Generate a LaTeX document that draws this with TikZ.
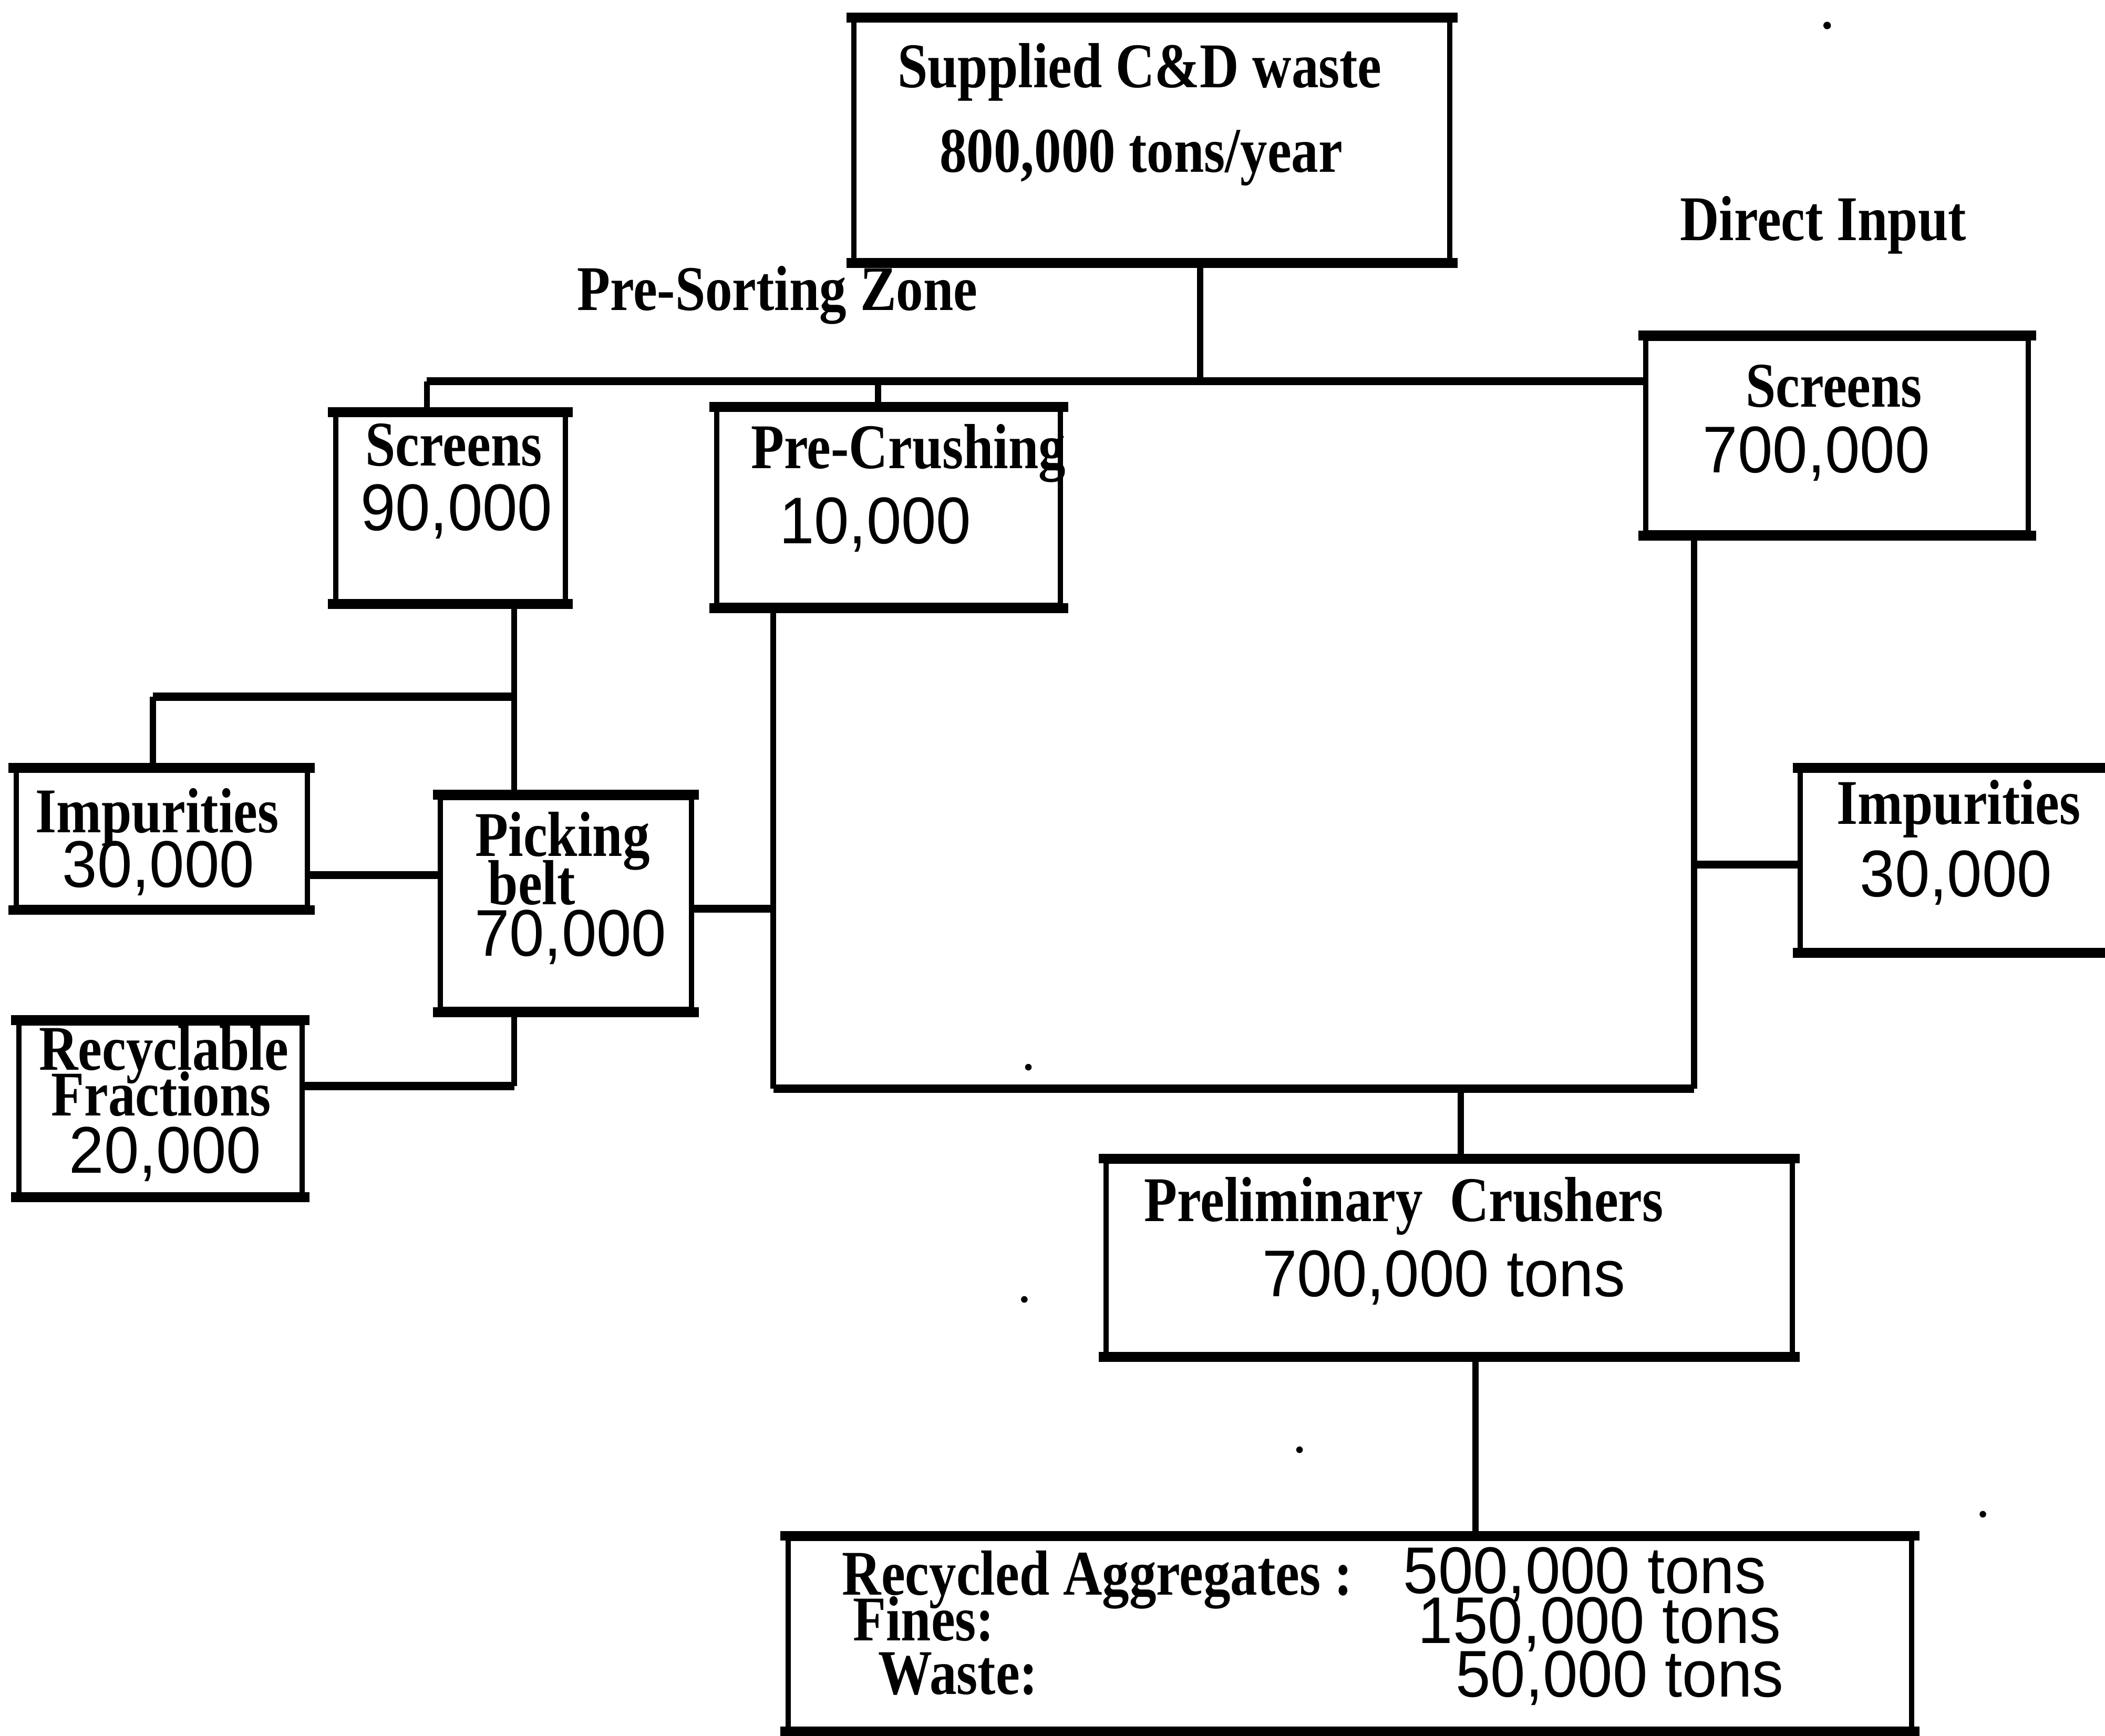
\documentclass[tikz,border=0pt]{standalone}
\usepackage{fontspec}
\usetikzlibrary{fit}
\newfontfamily\serifl[FakeStretch=0.85]{Liberation Serif}
\newfontfamily\numf[FakeStretch=0.95]{Liberation Sans}
\begin{document}
\begin{tikzpicture}[x=0.02cm,y=-0.02cm,
  box/.style={draw, line width=2.2pt, inner sep=0pt, fit={#1}},
  lbl/.style={font=\serifl\bfseries\fontsize{27}{30}\selectfont, inner sep=0pt, anchor=base},
  num/.style={font=\numf\fontsize{28}{30}\selectfont, inner sep=0pt, anchor=base},
  vline/.style={line width=2.6pt},
  hline/.style={line width=3.4pt},
  edge/.style={line width=4.2pt, line cap=rect}]
\useasboundingbox (0,0) rectangle (1568,1293);

% boxes
\node[box={(636,15) (1080,194)}] (sup) {};
\node[box={(250,309) (421,448)}] (scrA) {};
\node[box={(534,305) (790,451)}] (pre) {};
\node[box={(1226,252) (1511,397)}] (scrB) {};
\node[box={(12,574) (229,676)}] (impA) {};
\node[box={(328,594) (515,752)}] (pick) {};
\node[box={(14,762) (225,890)}] (rec) {};
\node[box={(1341,574) (1580,708)}] (impB) {};
\node[box={(824,865) (1335,1009)}] (pc) {};
\node[box={(587,1146) (1424,1288)}] (out) {};
\foreach \n in {sup,scrA,pre,scrB,impA,pick,rec,impB,pc,out}{
  \draw[edge] (\n.north west) -- (\n.north east);
  \draw[edge] (\n.south west) -- (\n.south east);
}

% free labels
\node[lbl] (presort) at (579,231) {Pre-Sorting Zone};
\node[lbl] (direct) at (1358,179) {Direct Input};

% box texts
\node[lbl] (supT1) at (849,65) {Supplied C\&D waste};
\node[lbl] (supT2) at (850,128) {800,000 tons/year};
\node[lbl] (scrAT1) at (338,347) {Screens};
\node[num] (scrAT2) at (340,395) {90,000};
\node[lbl, anchor=base west] (preT1) at (559,349) {Pre-Crushing};
\node[num] (preT2) at (652,405) {10,000};
\node[lbl] (scrBT1) at (1366,303) {Screens};
\node[num] (scrBT2) at (1353,352) {700,000};
\node[lbl] (impAT1) at (117,620) {Impurities};
\node[num] (impAT2) at (118,661) {30,000};
\node[lbl] (pickT1) at (419,638) {Picking};
\node[lbl] (pickT2) at (396,674) {belt};
\node[num] (pickT3) at (425,712) {70,000};
\node[lbl] (recT1) at (122,797) {Recyclable};
\node[lbl] (recT2) at (120,831) {Fractions};
\node[num] (recT3) at (123,874) {20,000};
\node[lbl] (impBT1) at (1459,614) {Impurities};
\node[num] (impBT2) at (1457,668) {30,000};
\node[lbl, anchor=base west] (pcT1) at (852,910) {Preliminary\ \ Crushers};
\node[num, anchor=base west] (pcT2) at (940,966) {700,000 tons};
\node[lbl, anchor=base west] (outL1) at (627,1188) {Recycled Aggregates :};
\node[lbl, anchor=base west] (outL2) at (635,1222) {Fines:};
\node[lbl, anchor=base west] (outL3) at (654,1262) {Waste:};
\node[num, anchor=base west] (outN1) at (1045,1187) {500,000 tons};
\node[num, anchor=base west] (outN2) at (1056,1224) {150,000 tons};
\node[num, anchor=base west] (outN3) at (1084,1264) {50,000 tons};

% connectors
\coordinate (bus) at (318,284);
\coordinate (supJ) at (894,284);
\coordinate (preTop) at (654,284);
\draw[vline] (supJ |- sup.south) -- (supJ);
\draw[hline] (bus) -- (scrB.west |- bus);
\draw[vline] (bus) -- (bus |- scrA.north);
\draw[vline] (preTop) -- (preTop |- pre.north);

\coordinate (brA) at (383,519);
\coordinate (brL) at (114,519);
\draw[vline] (brA |- scrA.south) -- (brA |- pick.north);
\draw[hline] (brA) -- (brL);
\draw[vline] (brL) -- (brL |- impA.north);

\coordinate (ia) at (0,652);
\draw[hline] (impA.east |- ia) -- (pick.west |- ia);

\coordinate (recJ) at (383,809);
\draw[hline] (rec.east |- recJ) -- (recJ);
\draw[vline] (recJ) -- (recJ |- pick.south);

\coordinate (pj) at (576,677);
\coordinate (lowL) at (576,811);
\coordinate (lowR) at (1262,811);
\draw[hline] (pick.east |- pj) -- (pj);
\draw[vline] (lowL |- pre.south) -- (lowL);
\draw[hline] (lowL) -- (lowR);
\draw[vline] (lowR) -- (lowR |- scrB.south);

\coordinate (ij) at (1262,644);
\draw[hline] (ij) -- (impB.west |- ij);

\coordinate (pcj) at (1088,811);
\draw[vline] (pcj) -- (pcj |- pc.north);
\coordinate (oj) at (1099,1100);
\draw[vline] (oj |- pc.south) -- (oj |- out.north);

% specks
\fill (1361,19) circle[radius=1.6pt];
\fill (766,795) circle[radius=1.4pt];
\fill (763,968) circle[radius=1.4pt];
\fill (968,1080) circle[radius=1.4pt];
\fill (1477,1128) circle[radius=1.4pt];
\end{tikzpicture}
\end{document}
